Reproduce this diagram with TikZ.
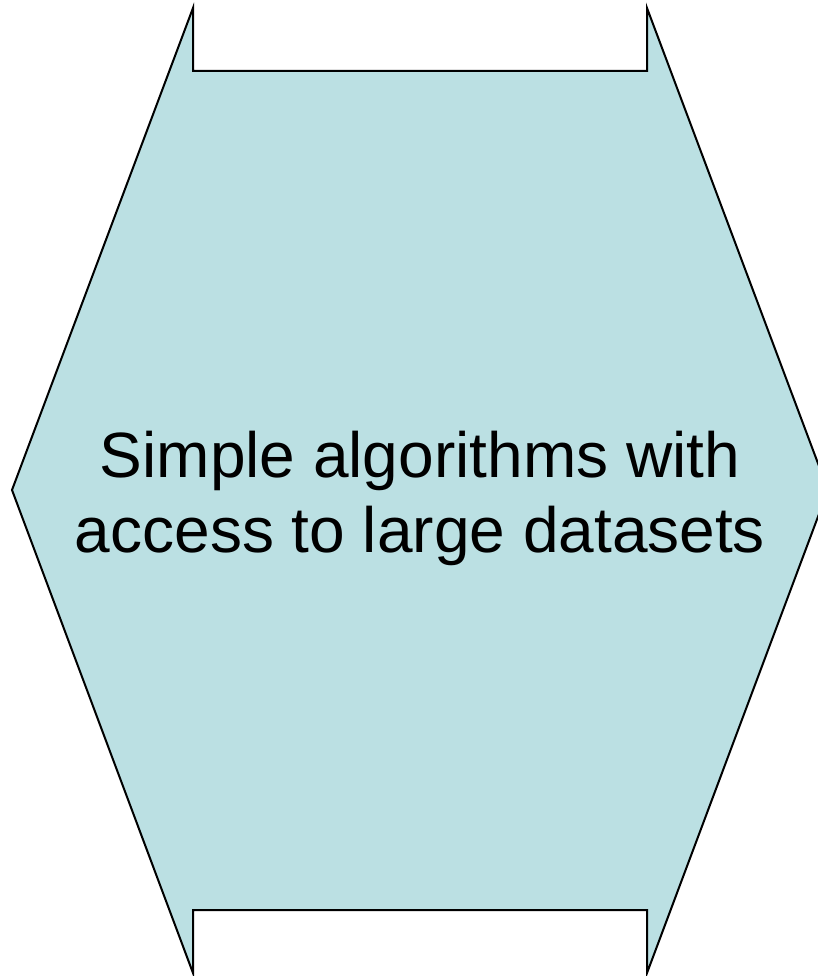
\documentclass[tikz,border=0pt]{standalone}
\usepackage{fontspec}
\setmainfont{Liberation Sans}
\usetikzlibrary{positioning}

\definecolor{panelblue}{HTML}{BBE0E3}

\tikzset{
  arrowpanel/.style={fill=panelblue, draw=black, line width=2pt, line join=miter},
  paneltext/.style={font=\fontsize{64}{75}\selectfont, align=center, inner sep=0pt}
}

\begin{document}
\begin{tikzpicture}[x=1pt, y=-1pt]
  \useasboundingbox (0,0) rectangle (818,976);
  \clip (0,0) rectangle (818,976);
  % double arrow, notched top and bottom
  \draw[arrowpanel] (193,8) -- (193,71) -- (647,71) -- (647,8)
    -- (828,490) -- (647,973) -- (647,910) -- (193,910) -- (193,973)
    -- (12,490) -- cycle;
  \node[paneltext] (label) at (420,498) {Simple algorithms with\\access to large datasets};
\end{tikzpicture}
\end{document}
